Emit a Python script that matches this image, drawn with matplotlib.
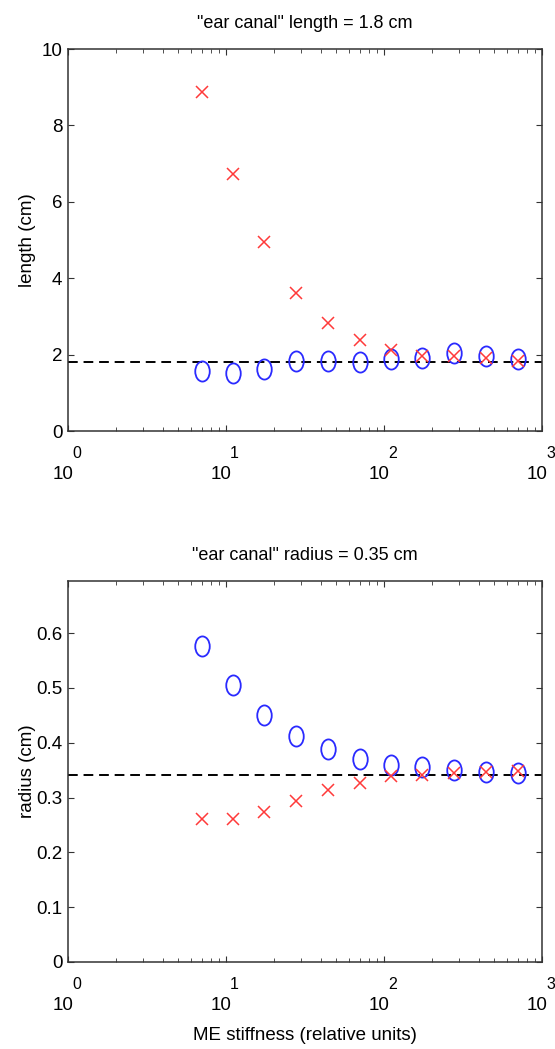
import numpy as np
import matplotlib
matplotlib.use("Agg")
import matplotlib.pyplot as plt
from matplotlib.path import Path
from matplotlib.markers import MarkerStyle
from matplotlib.transforms import Affine2D, blended_transform_factory, offset_copy

plt.rcParams['font.family'] = ['Liberation Sans', 'DejaVu Sans']

# ---- data ----
stiffness = [7.0, 11.0, 17.4, 27.8, 44.2, 70.5, 110.0, 175.0, 276.0, 440.0, 700.0]
length_o = [1.56, 1.52, 1.61, 1.82, 1.82, 1.81, 1.89, 1.91, 2.04, 1.96, 1.89]
length_x = [8.88, 6.74, 4.94, 3.62, 2.83, 2.37, 2.13, 1.96, 1.96, 1.90, 1.84]
radius_o = [0.577, 0.506, 0.450, 0.412, 0.389, 0.371, 0.359, 0.355, 0.350, 0.346, 0.345]
radius_x = [0.261, 0.261, 0.273, 0.293, 0.314, 0.327, 0.339, 0.342, 0.345, 0.347, 0.349]
true_length = 1.8
true_radius = 0.342
decades = [0, 1, 2, 3]
length_ticks = [0, 2, 4, 6, 8, 10]
radius_ticks = [0, 0.1, 0.2, 0.3, 0.4, 0.5, 0.6]

ell = Path.unit_circle().transformed(Affine2D().scale(0.72, 1.0))
ell_marker = MarkerStyle(ell)

W, H = 555, 1049
fig = plt.figure(figsize=(W / 100, H / 100), dpi=100)
L, R = 68, 542
ax1 = fig.add_axes([L / W, 1 - 431 / H, (R - L) / W, (431 - 49) / H])
ax2 = fig.add_axes([L / W, 1 - 962 / H, (R - L) / W, (962 - 581) / H])

fs = 13.5
spine_c = '#333333'
blue = '#2a2aff'
red = '#ff3a3a'

def style(ax, ylim, yticks, ylabel, title):
    ax.set_xscale('log')
    ax.set_xlim(1, 1000)
    ax.set_ylim(*ylim)
    ax.set_yticks(yticks)
    ax.set_yticklabels([('%g' % t) for t in yticks], fontsize=fs)
    ax.set_xticks([10 ** d for d in decades])
    ax.set_xticklabels([''] * len(decades))
    ax.tick_params(which='both', direction='in', top=True, right=True, color=spine_c)
    ax.tick_params(which='major', length=4.5, pad=4)
    ax.tick_params(which='minor', length=3)
    for s in ax.spines.values():
        s.set_color(spine_c)
        s.set_linewidth(1.1)
    ax.set_ylabel(ylabel, fontsize=fs)
    ax.yaxis.set_label_coords((27 - L) / (R - L), 0.5)
    ax.yaxis.label.set_va('center')
    ax.set_title(title, fontsize=fs - 0.5, pad=15)
    tr = blended_transform_factory(ax.transData, ax.transAxes)
    for d in decades:
        x = 10 ** d
        t1 = offset_copy(tr, fig=fig, x=5, y=-48, units='dots')
        ax.text(x, 0, '10', transform=t1, ha='right', va='baseline', fontsize=fs)
        t2 = offset_copy(tr, fig=fig, x=4, y=-27, units='dots')
        ax.text(x, 0, str(d), transform=t2, ha='left', va='baseline', fontsize=fs - 2)

for ax, yo, yx, ref in [(ax1, length_o, length_x, true_length),
                        (ax2, radius_o, radius_x, true_radius)]:
    ax.axhline(ref, color='black', lw=1.4, ls=(0, (5, 3)), zorder=1)
    ax.plot(stiffness, yo, ls='none', marker=ell_marker, ms=14.5, mfc='none',
            mec=blue, mew=1.3, zorder=2)
    ax.plot(stiffness, yx, ls='none', marker='x', ms=8, mec=red, mew=1.1, zorder=3)

style(ax1, (0, 10), length_ticks, 'length (cm)', '"ear canal" length = 1.8 cm')
style(ax2, (0, 0.695), radius_ticks, 'radius (cm)', '"ear canal" radius = 0.35 cm')
fig.text(0.5 * (L + R) / W, 1 - 1036 / H, 'ME stiffness (relative units)',
         ha='center', va='center', fontsize=fs)

fig.savefig('out.png', dpi=100)
